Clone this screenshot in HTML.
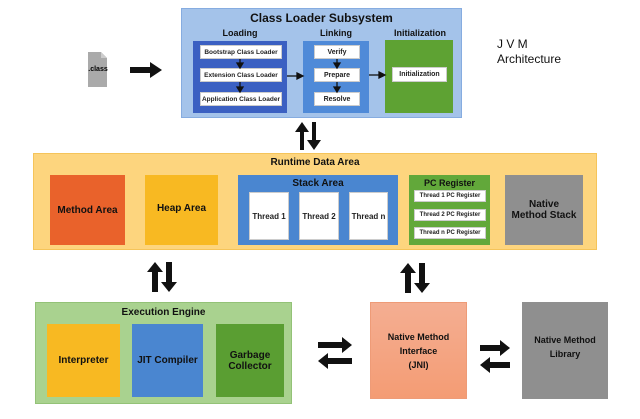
<!DOCTYPE html><html><head><style>
body{margin:0;width:640px;height:419px;background:#fff;position:relative;overflow:hidden;font-family:"Liberation Sans",sans-serif;}
.b{position:absolute;box-sizing:border-box;}
.t{position:absolute;font-weight:bold;text-align:center;color:#111;}
.w{position:absolute;background:#fff;font-size:7px;font-weight:bold;text-align:center;color:#222;display:flex;align-items:center;justify-content:center;box-sizing:border-box;border:1px solid #ccc;white-space:nowrap;}
.c{display:flex;align-items:center;justify-content:center;text-align:center;font-weight:bold;font-size:10px;color:#111;}
</style></head><body>
<svg width="640" height="419" style="position:absolute;left:0;top:0">
<path d="M88,52H101L107,58V87H88Z" fill="#aaa"/><path d="M101,52V58H107" fill="#ccc"/>
<path d="M130,67H150V62L162,70L150,78V73H130Z" fill="#111"/>
<g fill="#111">
<path d="M300,150V132H295L302,122L309,132H304V150Z"/><path d="M312,122V140H307L314,150L321,140H316V122Z"/>
<path d="M152,292V272H147L155,262L163,272H158V292Z"/><path d="M166,262V282H161L169,292L177,282H172V262Z"/>
<path d="M405,293V273H400L408,263L416,273H411V293Z"/><path d="M419,263V283H414L422,293L430,283H425V263Z"/>
<path d="M318,342H342V337L352,345L342,353V348H318Z"/><path d="M352,358H328V353L318,361L328,369V364H352Z"/>
<path d="M480,345H500V340L510,348L500,356V351H480Z"/><path d="M510,362H490V357L480,365L490,373V368H510Z"/>
</g>
</svg>
<div style="position:absolute;left:86px;top:66px;width:24px;font-size:7px;text-align:center;font-weight:bold">.class</div>
<div style="position:absolute;left:497px;top:37px;font-size:12px;line-height:15px;color:#111">J V M<br>Architecture</div>

<div class="b" style="left:181px;top:8px;width:281px;height:110px;background:#a4c3ea;border:1px solid #86ace0"></div>
<div class="t" style="left:181px;width:281px;top:11px;font-size:12px">Class Loader Subsystem</div>
<div class="t" style="left:193px;width:94px;top:28px;font-size:9px">Loading</div>
<div class="t" style="left:303px;width:66px;top:28px;font-size:9px">Linking</div>
<div class="t" style="left:380px;width:80px;top:28px;font-size:9px">Initialization</div>
<div class="b" style="left:193px;top:41px;width:94px;height:72px;background:#3b60c2"></div>
<div class="w" style="left:200px;top:45px;width:82px;height:14px;font-size:6.5px">Bootstrap Class Loader</div>
<div class="w" style="left:200px;top:68px;width:82px;height:14px;font-size:6.5px">Extension Class Loader</div>
<div class="w" style="left:200px;top:92px;width:82px;height:14px;font-size:6.5px">Application Class Loader</div>
<div class="b" style="left:303px;top:41px;width:66px;height:72px;background:#4f8ad8"></div>
<div class="w" style="left:314px;top:45px;width:46px;height:14px">Verify</div>
<div class="w" style="left:314px;top:68px;width:46px;height:14px">Prepare</div>
<div class="w" style="left:314px;top:92px;width:46px;height:14px">Resolve</div>
<div class="b" style="left:385px;top:40px;width:68px;height:73px;background:#5ea233"></div>
<div class="w" style="left:392px;top:67px;width:55px;height:15px">Initialization</div>
<svg width="640" height="130" style="position:absolute;left:0;top:0">
<g stroke="#111" stroke-width="1.3" fill="#111">
<line x1="240" y1="59" x2="240" y2="64"/><path d="M237,63L240,68L243,63z"/>
<line x1="240" y1="82" x2="240" y2="88"/><path d="M237,87L240,92L243,87z"/>
<line x1="337" y1="59" x2="337" y2="64"/><path d="M334,63L337,68L340,63z"/>
<line x1="337" y1="82" x2="337" y2="88"/><path d="M334,87L337,92L340,87z"/>
<line x1="287" y1="76" x2="298" y2="76"/><path d="M297,73L303,76L297,79z"/>
<line x1="369" y1="75" x2="380" y2="75"/><path d="M379,72L385,75L379,78z"/>
</g></svg>

<div class="b" style="left:33px;top:153px;width:564px;height:97px;background:#fdd57e;border:1px solid #f5c45a"></div>
<div class="t" style="left:33px;width:564px;top:157px;font-size:10px">Runtime Data Area</div>
<div class="b c" style="left:50px;top:175px;width:75px;height:70px;background:#e9622b">Method Area</div>
<div class="b c" style="left:145px;top:175px;width:73px;height:70px;background:#f8b922;padding-bottom:4px">Heap Area</div>
<div class="b" style="left:238px;top:175px;width:160px;height:70px;background:#4a86d0"></div>
<div class="t" style="left:238px;width:160px;top:178px;font-size:10px">Stack Area</div>
<div class="w" style="left:249px;top:192px;width:40px;height:48px;font-size:8px">Thread 1</div>
<div class="w" style="left:299px;top:192px;width:40px;height:48px;font-size:8px">Thread 2</div>
<div class="w" style="left:349px;top:192px;width:39px;height:48px;font-size:8px">Thread n</div>
<div class="b" style="left:409px;top:175px;width:81px;height:70px;background:#62a83a"></div>
<div class="t" style="left:409px;width:81px;top:178px;font-size:9px">PC Register</div>
<div class="w" style="left:414px;top:190px;width:72px;height:12px;font-size:6px">Thread 1 PC Register</div>
<div class="w" style="left:414px;top:209px;width:72px;height:12px;font-size:6px">Thread 2 PC Register</div>
<div class="w" style="left:414px;top:227px;width:72px;height:12px;font-size:6px">Thread n PC Register</div>
<div class="b c" style="left:505px;top:175px;width:78px;height:70px;background:#8f8f8f">Native<br>Method Stack</div>

<div class="b" style="left:35px;top:302px;width:257px;height:102px;background:#a9d28f;border:1px solid #93c277"></div>
<div class="t" style="left:35px;width:257px;top:307px;font-size:10px">Execution Engine</div>
<div class="b c" style="left:47px;top:324px;width:73px;height:73px;background:#f8b922">Interpreter</div>
<div class="b c" style="left:132px;top:324px;width:71px;height:73px;background:#4a86d0">JIT Compiler</div>
<div class="b c" style="left:216px;top:324px;width:68px;height:73px;background:#5a9e32">Garbage<br>Collector</div>
<div class="b c" style="left:370px;top:302px;width:97px;height:97px;background:linear-gradient(#f4ae92,#f49c74);border:1px solid #ee9b77;line-height:14px;font-size:9px">Native Method<br>Interface<br>(JNI)</div>
<div class="b c" style="left:522px;top:302px;width:86px;height:97px;background:#8f8f8f;font-size:9px;line-height:14px;padding-bottom:8px">Native Method<br>Library</div>
</body></html>
